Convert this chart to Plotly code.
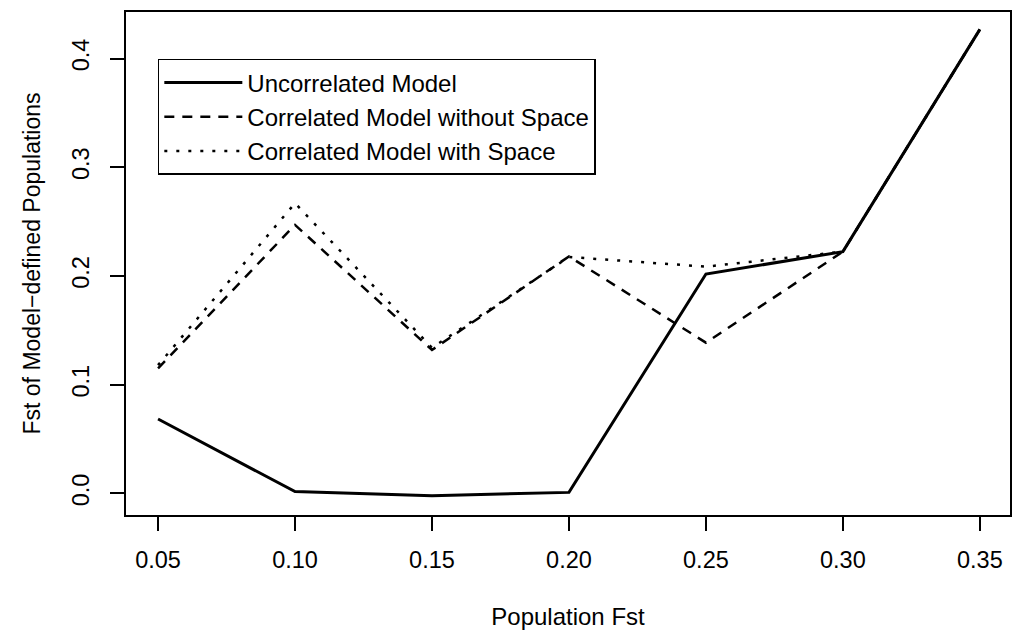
import plotly.graph_objects as go

pop_fst = [0.05, 0.10, 0.15, 0.20, 0.25, 0.30, 0.35]
uncorrelated = [0.0685, 0.0017, -0.002, 0.001, 0.2018, 0.2224, 0.4268]
corr_no_space = [0.115, 0.247, 0.132, 0.218, 0.1387, 0.2224, 0.4268]
corr_space = [0.118, 0.267, 0.134, 0.2175, 0.2086, 0.2224, 0.4268]

x_ticks = [0.05, 0.10, 0.15, 0.20, 0.25, 0.30, 0.35]
x_tick_text = ["0.05", "0.10", "0.15", "0.20", "0.25", "0.30", "0.35"]
y_ticks = [0.0, 0.1, 0.2, 0.3, 0.4]
y_tick_text = ["0.0", "0.1", "0.2", "0.3", "0.4"]

FONT = "Liberation Sans, Arial, Helvetica, sans-serif"

fig = go.Figure()
fig.add_trace(go.Scatter(x=pop_fst, y=uncorrelated, mode="lines",
                         name="Uncorrelated Model",
                         line=dict(color="black", width=3)))
fig.add_trace(go.Scatter(x=pop_fst, y=corr_no_space, mode="lines",
                         name="Correlated Model without Space",
                         line=dict(color="black", width=2.5, dash="10px,8px")))
fig.add_trace(go.Scatter(x=pop_fst, y=corr_space, mode="lines",
                         name="Correlated Model with Space",
                         line=dict(color="black", width=2.5, dash="3px,9px")))

fig.update_layout(
    width=1014, height=633,
    margin=dict(l=126, r=2, t=12, b=118),
    paper_bgcolor="white", plot_bgcolor="white",
    font=dict(family=FONT, size=24, color="black"),
    showlegend=True,
    legend=dict(x=0.036, y=0.9066, xanchor="left", yanchor="top",
                bordercolor="black", borderwidth=1.5, bgcolor="white",
                font=dict(size=24), itemwidth=78, tracegroupgap=0),
    xaxis=dict(range=[0.0383, 0.361], tickvals=x_ticks, ticktext=x_tick_text,
               showgrid=False, zeroline=False, showline=True, linecolor="black",
               linewidth=1.5, mirror=True, ticks="outside", ticklen=14,
               tickwidth=1.5, tickcolor="black", ticklabelstandoff=9,
               tickfont=dict(size=23.5),
               title=dict(text="Population Fst", standoff=36,
                          font=dict(size=24))),
    yaxis=dict(range=[-0.0198, 0.4428], tickvals=y_ticks, ticktext=y_tick_text,
               showgrid=False, zeroline=False, showline=True, linecolor="black",
               linewidth=1.5, mirror=True, ticks="outside", ticklen=14,
               tickwidth=1.5, tickcolor="black", tickangle=-90,
               ticklabelstandoff=12, tickfont=dict(size=23.5),
               title=dict(text="Fst of Model\u2212defined Populations", standoff=21,
                          font=dict(size=23))),
)

fig.write_html("out.html")
